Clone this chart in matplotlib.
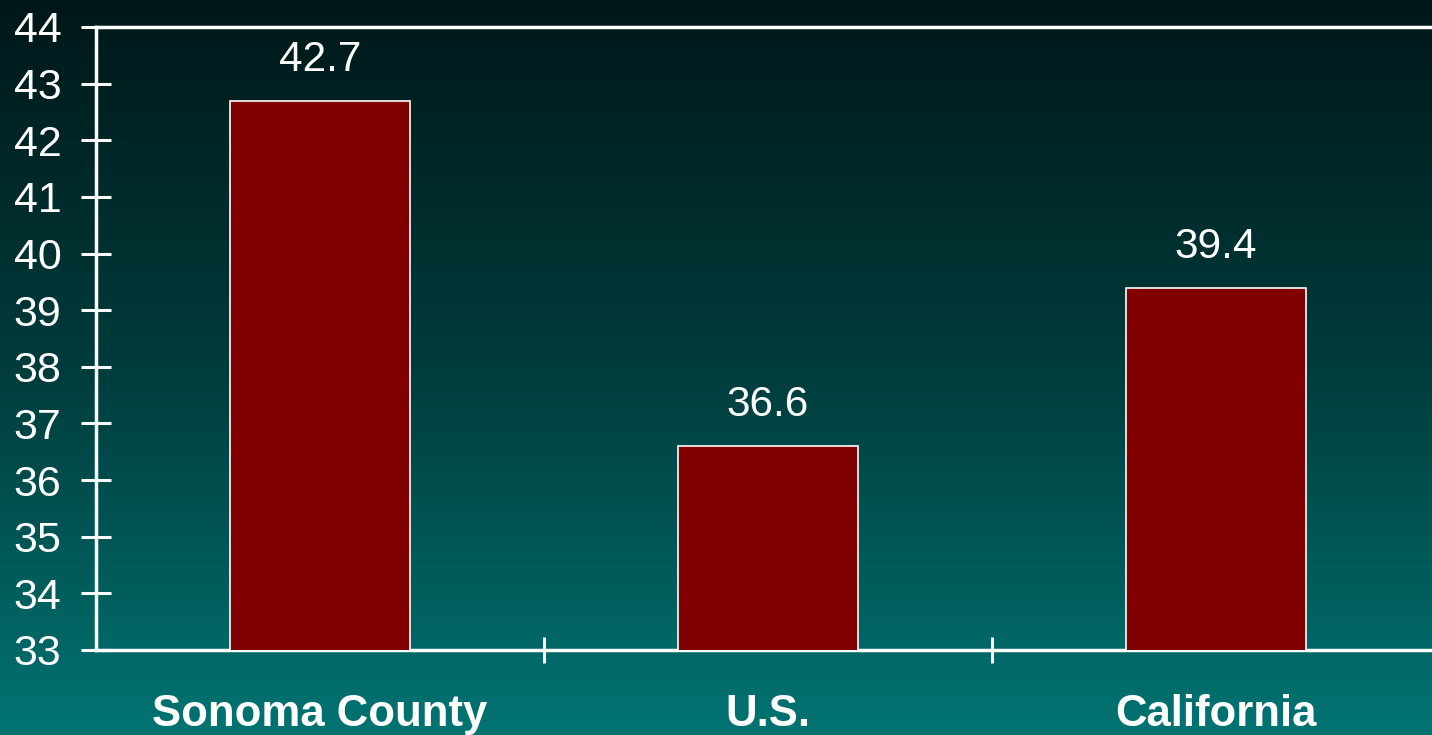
import numpy as np
import matplotlib
matplotlib.use("Agg")
import matplotlib.pyplot as plt
from matplotlib.colors import LinearSegmentedColormap

categories = ["Sonoma County", "U.S.", "California"]
values = [42.7, 36.6, 39.4]
value_labels = ["42.7", "36.6", "39.4"]
y_ticks = list(range(33, 45))

plt.rcParams['font.family'] = ['Liberation Sans', 'DejaVu Sans']

W, H = 1432, 735
fig = plt.figure(figsize=(W / 100, H / 100), dpi=100)

# gradient background
bg = fig.add_axes([0, 0, 1, 1], zorder=0)
cmap = LinearSegmentedColormap.from_list("bg", ["#001719", "#003c3c", "#007472"])
grad = np.linspace(0, 1, 256).reshape(-1, 1)
bg.imshow(grad, aspect="auto", cmap=cmap, extent=[0, 1, 0, 1], origin="upper")
bg.set_axis_off()

left = 96 / W
right = 1440 / W
bottom = (H - 650) / H
top = (H - 27) / H
ax = fig.add_axes([left, bottom, right - left, top - bottom], zorder=1)
ax.patch.set_alpha(0)

x = np.arange(len(categories))
bars = ax.bar(x, values, width=0.40, bottom=0, color="#800000",
              edgecolor="white", linewidth=1.2, zorder=3)

ax.set_ylim(33, 44)
ax.set_xlim(-0.5, 2.5)

for xi, v, lab in zip(x, values, value_labels):
    ax.annotate(lab, (xi, v), xytext=(0, 15), textcoords="offset points",
                ha="center", va="bottom", color="white", fontsize=30.5)

for s in ["left", "bottom", "top"]:
    ax.spines[s].set_color("white")
    ax.spines[s].set_linewidth(2.5)
ax.spines["right"].set_visible(False)

ax.set_yticks(y_ticks)
ax.set_yticklabels([str(t) for t in y_ticks])
ax.tick_params(axis="y", direction="inout", length=22, width=2.2, colors="white",
               labelsize=31, pad=14)

ax.set_xticks([0.5, 1.5])
ax.set_xticklabels([])
ax.tick_params(axis="x", which="major", direction="inout", length=19, width=2.2,
               colors="white")
ax.set_xticks(x, minor=True)
ax.set_xticklabels(categories, minor=True, fontweight="bold", fontsize=31.5)
ax.tick_params(axis="x", which="minor", length=0, colors="white", pad=32)

fig.savefig("out.png", dpi=100)
